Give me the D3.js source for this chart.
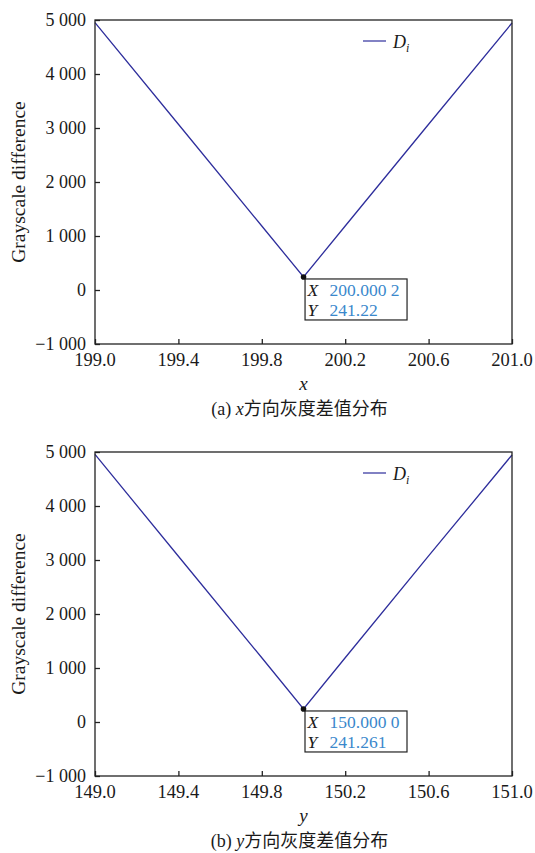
<!DOCTYPE html>
<html>
<head>
<meta charset="utf-8">
<script src="https://cdn.jsdelivr.net/npm/d3@7"></script>
<style>
  html, body { margin: 0; padding: 0; background: #fff; }
  svg { display: block; }
  text { font-family: "Liberation Serif", "Times New Roman", "Noto Sans CJK SC", serif; fill: #1a1a1a; }
</style>
</head>
<body>
<svg id="chart" width="535" height="853"></svg>
<script>
// Grayscale difference along the x direction
const xPositions = [199.0, 199.4, 199.8, 200.0002, 200.2, 200.6, 201.0];
const xDiffs     = [4950, 3070, 1185, 241.22, 1185, 3070, 4945];
const xTicks     = [199.0, 199.4, 199.8, 200.2, 200.6, 201.0];
const xMin       = { pos: 200.0002, value: 241.22, posLabel: "200.000 2", valueLabel: "241.22" };

// Grayscale difference along the y direction
const yPositions = [149.0, 149.4, 149.8, 150.0, 150.2, 150.6, 151.0];
const yDiffs     = [4955, 3070, 1190, 241.261, 1190, 3075, 4945];
const yTicks     = [149.0, 149.4, 149.8, 150.2, 150.6, 151.0];
const yMin       = { pos: 150.0, value: 241.261, posLabel: "150.000 0", valueLabel: "241.261" };

const valueTicks = [-1000, 0, 1000, 2000, 3000, 4000, 5000];
const valueDomain = [-1000, 5000];

const LINE_COLOR = "#2e2e9c";
const TIP_COLOR = "#3a88cc";
const svg = d3.select("#chart");

const locale = d3.formatLocale({ decimal: ".", thousands: "\u2009", grouping: [3], currency: ["", ""], minus: "\u2212" });
const fmtValue = v => locale.format(",")(v).replace("\u2009", " ");
const fmtPos = d3.format(".1f");

function panel(cfg) {
  const left = 95, right = 512, top = cfg.top, bottom = cfg.top + 324;
  const g = svg.append("g");

  const x = d3.scaleLinear().domain(cfg.domain).range([left, right]);
  const y = d3.scaleLinear().domain(valueDomain).range([bottom, top]);

  // inward ticks on left and bottom
  const yAxis = d3.axisRight(y).tickValues(valueTicks).tickSize(5).tickFormat("");
  g.append("g").attr("transform", `translate(${left},0)`).call(yAxis)
    .call(s => s.select(".domain").remove())
    .call(s => s.selectAll("line").attr("stroke", "#222").attr("stroke-width", 1.3));
  const xAxis = d3.axisTop(x).tickValues(cfg.ticks).tickSize(5).tickFormat("");
  g.append("g").attr("transform", `translate(0,${bottom})`).call(xAxis)
    .call(s => s.select(".domain").remove())
    .call(s => s.selectAll("line").attr("stroke", "#222").attr("stroke-width", 1.3));

  // tick labels
  g.selectAll(".ylab").data(valueTicks).join("text")
    .attr("x", left - 9).attr("y", d => y(d)).attr("dy", "0.34em")
    .attr("text-anchor", "end").attr("font-size", 18)
    .text(fmtValue);
  g.selectAll(".xlab").data(cfg.ticks).join("text")
    .attr("x", d => x(d)).attr("y", bottom + 22)
    .attr("text-anchor", "middle").attr("font-size", 18.5)
    .text(fmtPos);

  // line
  const pts = cfg.positions.map((p, i) => [p, cfg.diffs[i]]);
  g.append("path").datum(pts)
    .attr("fill", "none").attr("stroke", LINE_COLOR).attr("stroke-width", 1.3)
    .attr("d", d3.line().x(d => x(d[0])).y(d => y(d[1])));

  // frame
  g.append("rect").attr("x", left).attr("y", top).attr("width", right - left).attr("height", bottom - top)
    .attr("fill", "none").attr("stroke", "#222").attr("stroke-width", 1.3);

  // legend
  g.append("line").attr("x1", 363).attr("x2", 386).attr("y1", top + 21).attr("y2", top + 21)
    .attr("stroke", LINE_COLOR).attr("stroke-width", 1.2);
  const lg = g.append("text").attr("x", 393).attr("y", top + 28).attr("font-size", 18).attr("font-style", "italic");
  lg.append("tspan").text("D");
  lg.append("tspan").attr("font-size", 12).attr("dy", 4).text("i");

  // data tip at the minimum
  const mx = x(cfg.min.pos), my = y(cfg.min.value);
  g.append("rect").attr("x", mx + 1.5).attr("y", my + 2).attr("width", 102).attr("height", 41)
    .attr("fill", "#fff").attr("stroke", "#222").attr("stroke-width", 1.2);
  g.append("circle").attr("cx", mx).attr("cy", my).attr("r", 2.8).attr("fill", "#111");
  const rows = [["X", cfg.min.posLabel], ["Y", cfg.min.valueLabel]];
  rows.forEach((r, i) => {
    g.append("text").attr("x", mx + 4).attr("y", my + 19 + i * 20)
      .attr("font-size", 17.5).attr("font-style", "italic").text(r[0]);
    g.append("text").attr("x", mx + 26).attr("y", my + 19 + i * 20)
      .attr("font-size", 17.5).style("fill", TIP_COLOR).text(r[1]);
  });

  // axis titles and caption
  g.append("text").attr("transform", `translate(25,${(top + bottom) / 2}) rotate(-90)`)
    .attr("text-anchor", "middle").attr("font-size", 19.5).text("Grayscale difference");
  g.append("text").attr("x", (left + right) / 2).attr("y", bottom + 46)
    .attr("text-anchor", "middle").attr("font-size", 19).attr("font-style", "italic").text(cfg.axisName);
  const cap = g.append("text").attr("x", (left + right) / 2 - 4).attr("y", bottom + 71)
    .attr("text-anchor", "middle").attr("font-size", 18);
  cap.append("tspan").text(cfg.capPrefix + " ");
  cap.append("tspan").attr("font-style", "italic").text(cfg.axisName);
  cap.append("tspan").text(cfg.capText);
}

panel({ top: 20, domain: [199.0, 201.0], ticks: xTicks, positions: xPositions, diffs: xDiffs,
        min: xMin, axisName: "x", capPrefix: "(a)", capText: "方向灰度差值分布" });
panel({ top: 452, domain: [149.0, 151.0], ticks: yTicks, positions: yPositions, diffs: yDiffs,
        min: yMin, axisName: "y", capPrefix: "(b)", capText: "方向灰度差值分布" });
</script>
</body>
</html>
